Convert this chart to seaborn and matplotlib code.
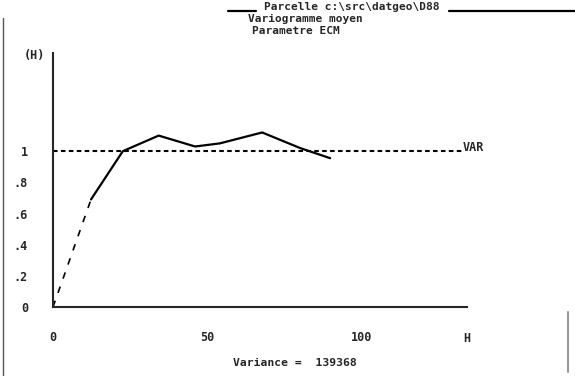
import matplotlib
matplotlib.use("Agg")
import matplotlib.pyplot as plt
import seaborn as sns
import pandas as pd
from matplotlib.lines import Line2D

sns.set_style("white")
plt.rcParams["font.family"] = ["DejaVu Sans Mono"]

# Variogramme moyen
lags = [0, 12.3, 22.6, 34.2, 46.0, 54.0, 67.7, 80.0, 89.7]
gamma = [0.0, 0.69, 1.00, 1.10, 1.03, 1.05, 1.12, 1.02, 0.955]
palier = 1.0
variance = 139368
yticks = [0, 0.2, 0.4, 0.6, 0.8, 1.0]
ytick_labels = ["0", ".2", ".4", ".6", ".8", "1"]
xticks = [0, 50, 100]
xtick_labels = ["0", "50", "100"]

df = pd.DataFrame({"H": lags, "gamma": gamma})

fig = plt.figure(figsize=(5.75, 3.76), dpi=100)
W, Hpx = 575, 376
ax = fig.add_axes([53 / W, (Hpx - 307) / Hpx, (467 - 53) / W, (307 - 53) / Hpx])

# premier segment en tirets, le reste en trait plein
sns.lineplot(data=df.iloc[:2], x="H", y="gamma", ax=ax, color="black",
             linewidth=1.2, linestyle=(0, (4, 5)))
sns.lineplot(data=df.iloc[1:], x="H", y="gamma", ax=ax, color="black",
             linewidth=1.6)

# palier (variance)
ax.hlines(palier, 0, 132.5, colors="black", linewidth=1.5,
          linestyles=(0, (2.2, 1.6)))

ax.set_xlim(0, 134)
ax.set_ylim(0, 1.63)
ax.set_xticks(xticks)
ax.set_xticklabels(xtick_labels, fontsize=8.5, fontweight="bold")
ax.set_yticks(yticks)
ax.set_yticklabels(ytick_labels, fontsize=8.5, fontweight="bold")
ax.tick_params(axis="x", direction="inout", length=6, width=1, pad=14)
ax.tick_params(axis="y", direction="inout", length=6, width=1, pad=15)
ax.set_xlabel("")
ax.set_ylabel("")
ax.spines["top"].set_visible(False)
ax.spines["right"].set_visible(False)
ax.spines["left"].set_linewidth(1.5)
ax.spines["bottom"].set_linewidth(1.5)


def ftext(x, y, s, size=8.0, ha="left"):
    fig.text(x / W, 1 - y / Hpx, s, fontsize=size,
             fontweight="bold", va="center", ha=ha)


ftext(352, 7, r"Parcelle c:\src\datgeo\D88", ha="center")
ftext(305, 19, "Variogramme moyen", ha="center")
ftext(296, 31, "Parametre ECM", ha="center")
ftext(24, 56, "(H)", 8.5)
ftext(463, 148, "VAR", 8.5)
ftext(463, 338, "H", 8.5)
ftext(295, 363, f"Variance =  {variance}", 8.2, ha="center")

# cadre de l'ecran
fig.add_artist(Line2D([228 / W, 256 / W], [1 - 11 / Hpx, 1 - 11 / Hpx],
                      color="black", linewidth=1.6))
fig.add_artist(Line2D([449 / W, 1.0], [1 - 11 / Hpx, 1 - 11 / Hpx],
                      color="black", linewidth=1.6))
fig.add_artist(Line2D([3 / W, 3 / W], [0, 1 - 18 / Hpx],
                      color="#555555", linewidth=1.0))
fig.add_artist(Line2D([568 / W, 568 / W], [0.01, 1 - 312 / Hpx],
                      color="#999999", linewidth=1.5))

fig.savefig("out.png", dpi=100)
